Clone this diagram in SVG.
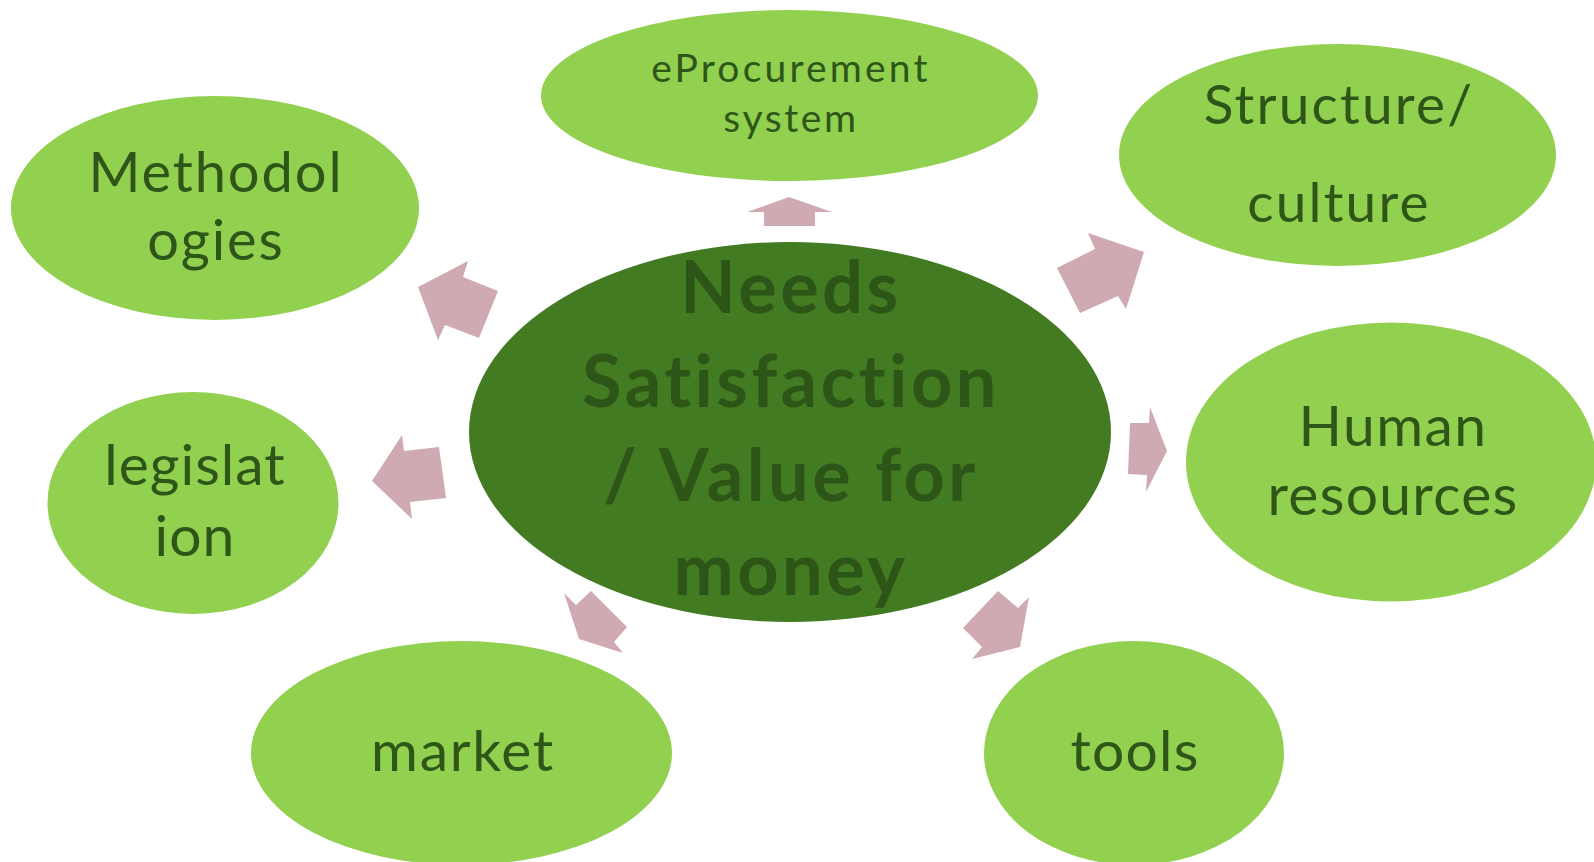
<svg xmlns="http://www.w3.org/2000/svg" width="1594" height="862" viewBox="0 0 1594 862">
<style>
.sat{fill:#92d050}
.core{fill:#427b21}
.lbl{font-family:Lato,"Open Sans","Liberation Sans",sans-serif;fill:#2e5618;text-anchor:middle;font-variant-ligatures:none}
.big{font-family:Lato,"Open Sans","Liberation Sans",sans-serif;font-weight:bold;fill:#2c5517;text-anchor:middle;font-size:72px;letter-spacing:3.5px;font-variant-ligatures:none}
.arr{fill:#cfaab2}
</style>
<rect width="1594" height="862" fill="#ffffff"/>
<g id="connectors">
<polygon class="arr" points="789,197 832,212 815,212 815,226 764,226 764,212 747,212"/>
<polygon class="arr" points="418,287 468,261 463,277 498,291 479,338 445,325 438,340"/>
<polygon class="arr" points="372,481 402,435 404,451 439,447 446,498 410,502 412,519"/>
<polygon class="arr" points="1057,268 1095,249 1088,233 1144,252 1126,309 1118,296 1080,313"/>
<polygon class="arr" points="1130,423 1149,423 1150,407 1167,451 1146,492 1147,475 1128,474"/>
<polygon class="arr" points="998,591 1018,608 1029,597 1020,647 972,659 982,647 963,628"/>
<polygon class="arr" points="564,593 576,605 591,591 627,627 614,642 623,653 579,639"/>
</g>
<g id="node-center">
<ellipse class="core" cx="790" cy="432" rx="321" ry="190"/>
<text class="big" x="791" y="313">Needs</text>
<text class="big" x="791" y="407">Satisfaction</text>
<text class="big" x="791" y="501">/ Value for</text>
<text class="big" x="791" y="595" letter-spacing="5">money</text>
</g>
<g id="node-eprocurement">
<ellipse class="sat" cx="789.5" cy="95.5" rx="248.5" ry="85.5"/>
<text class="lbl" x="791" y="82" font-size="39" letter-spacing="3.2">eProcurement</text>
<text class="lbl" x="791" y="132" font-size="39" letter-spacing="2.6">system</text>
</g>
<g id="node-methodologies">
<ellipse class="sat" cx="215" cy="208" rx="204" ry="112"/>
<text class="lbl" x="216" y="192" font-size="56" letter-spacing="1.9">Methodol</text>
<text class="lbl" x="216" y="260" font-size="56" letter-spacing="1.9">ogies</text>
</g>
<g id="node-structure">
<ellipse class="sat" cx="1337.5" cy="155" rx="218.5" ry="111"/>
<text class="lbl" x="1339" y="124" font-size="55" letter-spacing="2.2">Structure/</text>
<text class="lbl" x="1339" y="222" font-size="55" letter-spacing="2.2">culture</text>
</g>
<g id="node-human">
<ellipse class="sat" cx="1391" cy="462" rx="205" ry="139.5"/>
<text class="lbl" x="1393" y="446" font-size="57" letter-spacing="1.4">Human</text>
<text class="lbl" x="1393" y="515" font-size="57" letter-spacing="1.3">resources</text>
</g>
<g id="node-legislation">
<ellipse class="sat" cx="193" cy="503" rx="145.5" ry="111"/>
<text class="lbl" x="195" y="485" font-size="57" letter-spacing="1">legislat</text>
<text class="lbl" x="195" y="556" font-size="57" letter-spacing="1">ion</text>
</g>
<g id="node-market">
<ellipse class="sat" cx="461.5" cy="753" rx="210.5" ry="112"/>
<text class="lbl" x="463" y="771" font-size="57" letter-spacing="1.7">market</text>
</g>
<g id="node-tools">
<ellipse class="sat" cx="1134" cy="753" rx="150" ry="112"/>
<text class="lbl" x="1135" y="771" font-size="57" letter-spacing="1.2">tools</text>
</g>
</svg>
